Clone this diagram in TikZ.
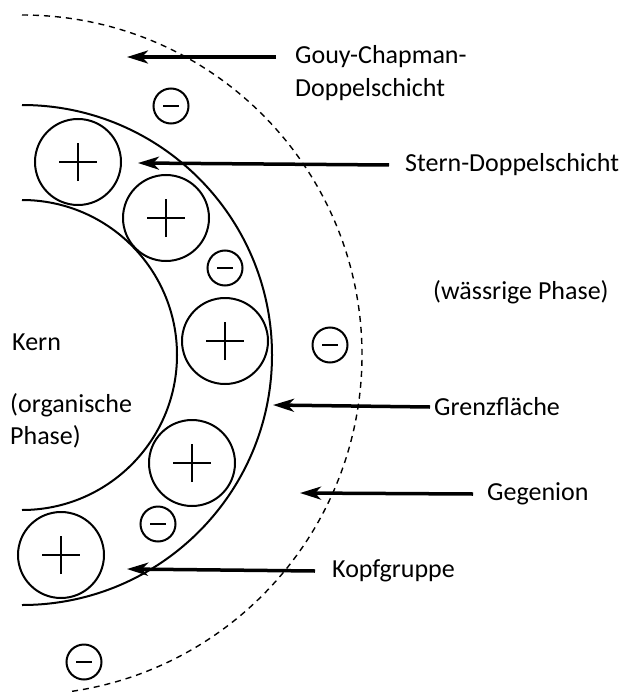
\documentclass[tikz,border=0pt]{standalone}
\usepackage{fontspec}
\setmainfont{Carlito}
\usetikzlibrary{arrows.meta, positioning}

\tikzset{
  kopf/.style={circle, draw, line width=2pt, minimum size=86pt, inner sep=0pt,
    path picture={\draw[line width=1.5pt] (path picture bounding box.center) +(-19pt,0) -- +(19pt,0)
      (path picture bounding box.center) +(0,-19pt) -- +(0,19pt);}},
  ion/.style={circle, draw, line width=2pt, minimum size=35pt, inner sep=0pt,
    path picture={\draw[line width=1.5pt] (path picture bounding box.center) +(-8pt,0) -- +(8pt,0);}},
  txt/.style={anchor=west, inner sep=0pt, font=\fontsize{26}{32}\selectfont, align=left},
  pfeil/.style={-{Stealth[length=21pt, width=13pt, inset=6pt]}, line width=3.5pt}
}

\begin{document}
\begin{tikzpicture}[x=1pt, y=-1pt]
\useasboundingbox (0,0) rectangle (621,695);

% The layers
\draw [line width=2pt] (22,200) arc[start angle=-90, end angle=90, radius=155];
\draw [line width=2pt] (22,105) arc[start angle=-90, end angle=90, radius=250];
\draw [line width=1.4pt, dash pattern=on 6pt off 5pt] (22,15) arc[start angle=-90, end angle=82, radius=340];

% Kopfgruppen
\node [kopf] (k1) at (78,162) {};
\node [kopf] (k2) at (166,218) {};
\node [kopf] (k3) at (225,341) {};
\node [kopf] (k4) at (192,463) {};
\node [kopf] (k5) at (61,555) {};

% Gegenionen
\node [ion] (g1) at (171,106) {};
\node [ion] (g2) at (225,268) {};
\node [ion] (g3) at (330,345) {};
\node [ion] (g4) at (158,524) {};
\node [ion] (g5) at (84,662) {};

% Labels
\node [txt] (gc1) at (295,57) {Gouy-Chapman-};
\node [txt] (gc2) at (295,90) {Doppelschicht};
\node [txt] (stern) at (405,165) {Stern-Doppelschicht};
\node [txt] (wasser) at (433,292) {(wässrige Phase)};
\node [txt] (kern) at (12,342) {Kern};
\node [txt] (org) at (10,421) {(organische\\Phase)};
\node [txt] (grenz) at (434,407) {Grenzfläche};
\node [txt] (gegen) at (487,494) {Gegenion};
\node [txt] (kopfl) at (332,571) {Kopfgruppe};

% Arrows
\coordinate (gctip) at (127,57);
\coordinate (sterntip) at (138,163);
\coordinate (grenztip) at (273,405);
\coordinate (gegentip) at (300,493);
\coordinate (kopftip) at (127,569);
\draw [pfeil] ([xshift=-19pt]gc1.west) -- (gctip);
\draw [pfeil] ([xshift=-16pt]stern.west) -- (sterntip);
\draw [pfeil] ([xshift=-4pt]grenz.west) -- (grenztip);
\draw [pfeil] ([xshift=-14pt]gegen.west) -- (gegentip);
\draw [pfeil] ([xshift=-17pt]kopfl.west) -- (kopftip);

\end{tikzpicture}
\end{document}
